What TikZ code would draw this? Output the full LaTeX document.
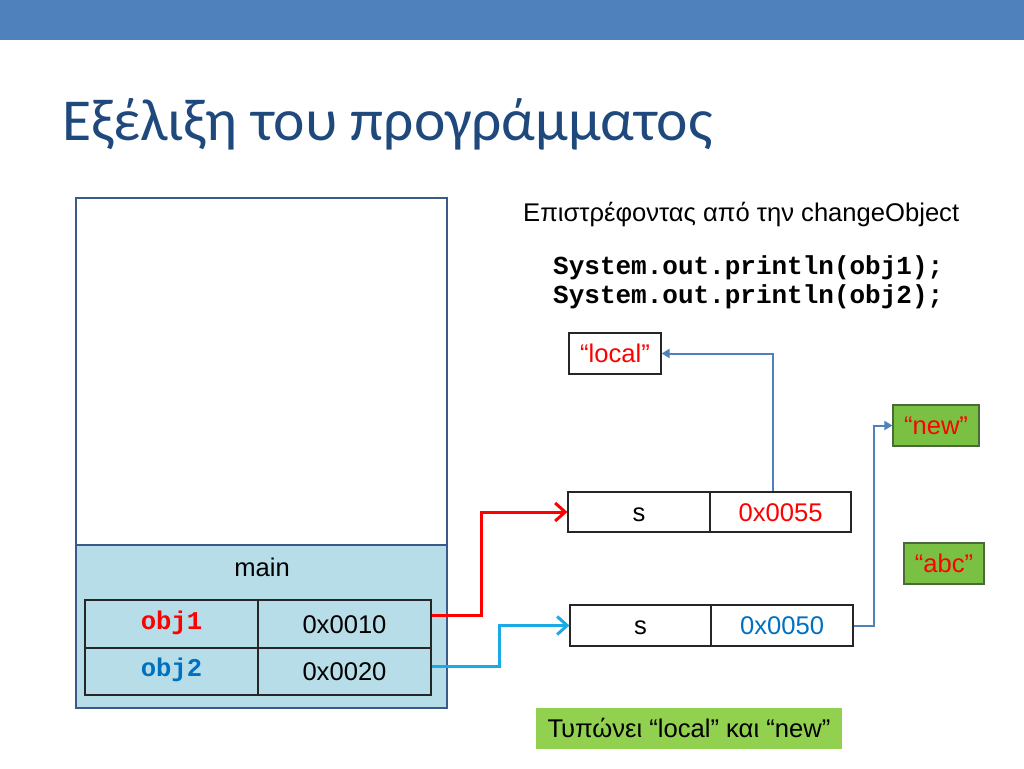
\documentclass[tikz,border=0pt]{standalone}
\usepackage{fontspec}
\setmainfont{Liberation Sans}
\setmonofont{Liberation Mono}
\newfontfamily\titlefont{Carlito}
\usetikzlibrary{arrows.meta}
\definecolor{barblue}{HTML}{4F81BD}
\definecolor{titleblue}{HTML}{1F497D}
\definecolor{frameblue}{HTML}{3A5A8A}
\definecolor{lightblue}{HTML}{B7DEE8}
\definecolor{codered}{HTML}{FF0000}
\definecolor{codeblue}{HTML}{0070C0}
\definecolor{cyanline}{HTML}{1AABE6}
\definecolor{greenbox}{HTML}{7AC143}
\definecolor{greenedge}{HTML}{4A6A3A}
\definecolor{greenbot}{HTML}{92D050}
\begin{document}
\begin{tikzpicture}[x=1pt,y=-1pt,
  body/.style={font=\fontsize{25.6}{30}\selectfont},
  cell/.style={draw=black!85, line width=1.2pt, inner sep=0pt, body, text height=18.3pt, text depth=0pt},
  codetxt/.style={font=\fontsize{26}{30}\selectfont\ttfamily\bfseries},
  strbox/.style={draw=black!85, line width=1.2pt, inner sep=0pt, body, text=codered, text height=18.3pt, text depth=0pt},
  greenstr/.style={strbox, fill=greenbox, draw=greenedge},
  redarrow/.style={draw=codered, line width=3pt, -{Straight Barb[length=10pt,width=18pt,line width=3pt]}},
  cyanarrow/.style={draw=cyanline, line width=3pt, -{Straight Barb[length=10pt,width=18pt,line width=3pt]}},
  bluearrow/.style={draw=barblue, line width=2pt, -{Triangle[length=8pt,width=9pt]}}
]
\useasboundingbox (0,0) rectangle (1024,768);
\fill[barblue] (0,0) rectangle (1024,40);
\node[anchor=base west, inner sep=0pt, text=titleblue, font=\titlefont\fontsize{59.5}{70}\selectfont] (title) at (62,140) {Εξέλιξη του προγράμματος};

% stack frame
\node[draw=frameblue, line width=2.5pt, minimum width=371pt, minimum height=510pt, inner sep=0pt] (frame) at (261.5,453) {};
\node[draw=frameblue, fill=lightblue, line width=2.5pt, minimum width=371pt, minimum height=163pt, inner sep=0pt] (mainframe) at (261.5,626.5) {};
\node[body, anchor=base] (mainlbl) at (262,576) {main};

\node[cell, minimum width=173pt, minimum height=48pt] (o1n) at (171.5,624) {\raisebox{4pt}{\ttfamily\bfseries\textcolor{codered}{obj1}}};
\node[cell, minimum width=173pt, minimum height=48pt] (o1v) at (344.5,624) {0x0010};
\node[cell, minimum width=173pt, minimum height=47pt] (o2n) at (171.5,671.5) {\raisebox{4pt}{\ttfamily\bfseries\textcolor{codeblue}{obj2}}};
\node[cell, minimum width=173pt, minimum height=47pt] (o2v) at (344.5,671.5) {0x0020};

% heading texts
\node[anchor=base west, inner sep=0pt, body] (ret) at (523,221) {Επιστρέφοντας από την changeObject};
\node[anchor=base west, inner sep=0pt, codetxt] (code1) at (553,274) {System.out.println(obj1);};
\node[anchor=base west, inner sep=0pt, codetxt] (code2) at (553,303) {System.out.println(obj2);};

% changeObject frames
\node[cell, minimum width=142pt, minimum height=40pt] (s1n) at (639,512) {s};
\node[cell, minimum width=141pt, minimum height=40pt, text=codered] (s1v) at (780.5,512) {0x0055};
\node[cell, minimum width=141pt, minimum height=41pt] (s2n) at (640.5,625.5) {s};
\node[cell, minimum width=142pt, minimum height=41pt, text=codeblue] (s2v) at (782,625.5) {0x0050};

% strings
\node[strbox, fill=white, minimum width=92pt, minimum height=41pt] (local) at (615,353.5) {“local”};
\node[greenstr, minimum width=86pt, minimum height=41pt] (new) at (936,425.5) {“new”};
\node[greenstr, minimum width=80pt, minimum height=41pt] (abc) at (944,563.5) {“abc”};

\node[fill=greenbot, minimum width=306pt, minimum height=41pt, inner sep=0pt, body, text height=18.3pt, text depth=0pt] (result) at (689,728.5) {Τυπώνει “local” και “new”};

% connectors
\draw[redarrow] ([yshift=9pt]o1v.east) -- ++(50,0) |- (s1n.west);
\draw[cyanarrow] ([yshift=5pt]o2v.east) -- ++(68,0) |- (s2n.west);
\draw[bluearrow] ([xshift=-7.5pt]s1v.north) |- (local.east);
\draw[bluearrow] (s2v.east) -- ++(20,0) |- (new.west);
\end{tikzpicture}
\end{document}
